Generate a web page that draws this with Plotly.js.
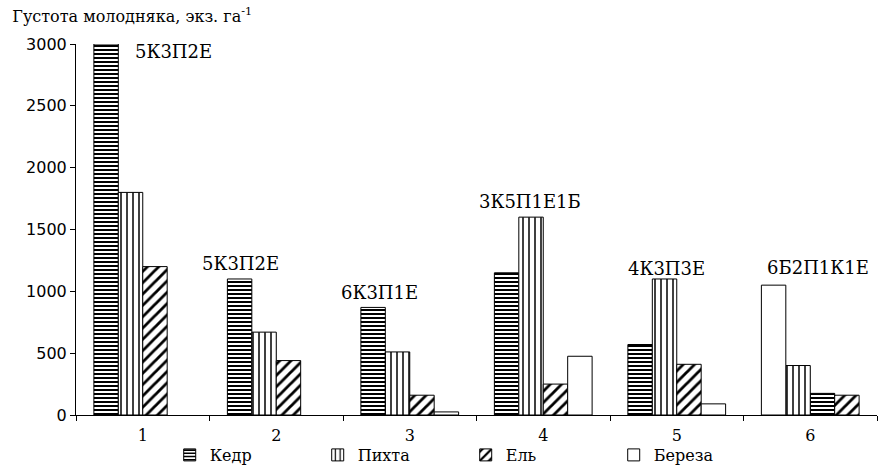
<!DOCTYPE html>
<html>
<head>
<meta charset="utf-8">
<script src="https://cdn.plot.ly/plotly-3.0.1.min.js"></script>
<style>html,body{margin:0;padding:0;background:#fff;}#chart{width:879px;height:465px;}</style>
</head>
<body>
<div id="chart"></div>
<script>
// ---- data ----
const categories = ['1', '2', '3', '4', '5', '6'];
const seriesNames = ['Кедр', 'Пихта', 'Ель', 'Береза'];
const kedr   = [3000, 1100, 870, 1150, 570, 175];
const pikhta = [1800, 670, 510, 1600, 1100, 400];
const el     = [1200, 440, 160, 250, 410, 160];
const bereza = [null, null, 25, 475, 90, 1050];
const compositions = ['5К3П2Е', '5К3П2Е', '6К3П1Е', '3К5П1Е1Б', '4К3П3Е', '6Б2П1К1Е'];
// order of species (index into seriesNames) inside each group
const groupOrder = [[0,1,2,3],[0,1,2,3],[0,1,2,3],[0,1,2,3],[0,1,2,3],[3,1,0,2]];

// ---- label placement (style) ----
const labelX = [0.23, 0.73, 1.77, 2.9, 3.92, 5.06];
const labelY = [2937, 1225, 987, 1730, 1183, 1189];

// ---- styles ----
const values = [kedr, pikhta, el, bereza];
const patterns = [
  {shape: '-', size: 4, solidity: 0.5},
  {shape: '|', size: 6, solidity: 0.25},
  {shape: '/', size: 8, solidity: 0.35},
  {shape: '', size: 8, solidity: 0.3}
];
const bw = 0.183;
const serif = 'DejaVu Serif, serif';
const sans = 'DejaVu Sans, Verdana, sans-serif';

const traces = seriesNames.map((name, s) => {
  const offsets = categories.map((c, g) => {
    const slot = groupOrder[g].indexOf(s);
    return (slot - 2) * bw;
  });
  return {
    type: 'bar',
    name: name,
    x: categories,
    y: values[s],
    width: bw,
    offset: offsets,
    marker: {
      color: 'white',
      line: {color: 'black', width: 1},
      pattern: Object.assign({fgcolor: 'black', bgcolor: 'white', fillmode: 'replace'}, patterns[s])
    },
    hoverinfo: 'x+y+name'
  };
});

const annotations = compositions.map((t, g) => ({
  x: labelX[g],
  y: labelY[g],
  xref: 'x', yref: 'y',
  text: t,
  showarrow: false,
  xanchor: 'center',
  yanchor: 'middle',
  font: {family: serif, size: 18, color: 'black'}
}));

const layout = {
  width: 879, height: 465,
  margin: {l: 76, r: 2, t: 44, b: 50, autoexpand: false},
  paper_bgcolor: 'white', plot_bgcolor: 'white',
  barmode: 'overlay',
  showlegend: true,
  title: {
    text: 'Густота молодняка, экз. га<sup>-1</sup>',
    x: 0.014, xanchor: 'left', xref: 'container',
    y: 0.965, yanchor: 'middle', yref: 'container',
    font: {family: serif, size: 16, color: 'black'}
  },
  xaxis: {
    type: 'category',
    range: [-0.5, 5.5],
    showline: true, linecolor: 'black', linewidth: 1,
    ticks: 'outside', tickson: 'boundaries', ticklen: 5, tickcolor: 'black',
    ticklabelstandoff: 6,
    showgrid: false, zeroline: false,
    tickfont: {family: serif, size: 16, color: 'black'}
  },
  yaxis: {
    range: [0, 3000],
    tickvals: [0, 500, 1000, 1500, 2000, 2500, 3000],
    showline: true, linecolor: 'black', linewidth: 1,
    ticks: 'outside', ticklen: 5, tickcolor: 'black',
    showgrid: false, zeroline: false,
    tickfont: {family: sans, size: 16, color: 'black'}
  },
  legend: {
    orientation: 'h',
    x: 0.117, xanchor: 'left',
    y: -0.062, yanchor: 'top',
    entrywidth: 103, entrywidthmode: 'pixels',
    font: {family: serif, size: 16, color: 'black'},
    bgcolor: 'rgba(0,0,0,0)'
  },
  annotations: annotations
};

Plotly.newPlot('chart', traces, layout, {displayModeBar: false, staticPlot: true});
</script>
</body>
</html>
